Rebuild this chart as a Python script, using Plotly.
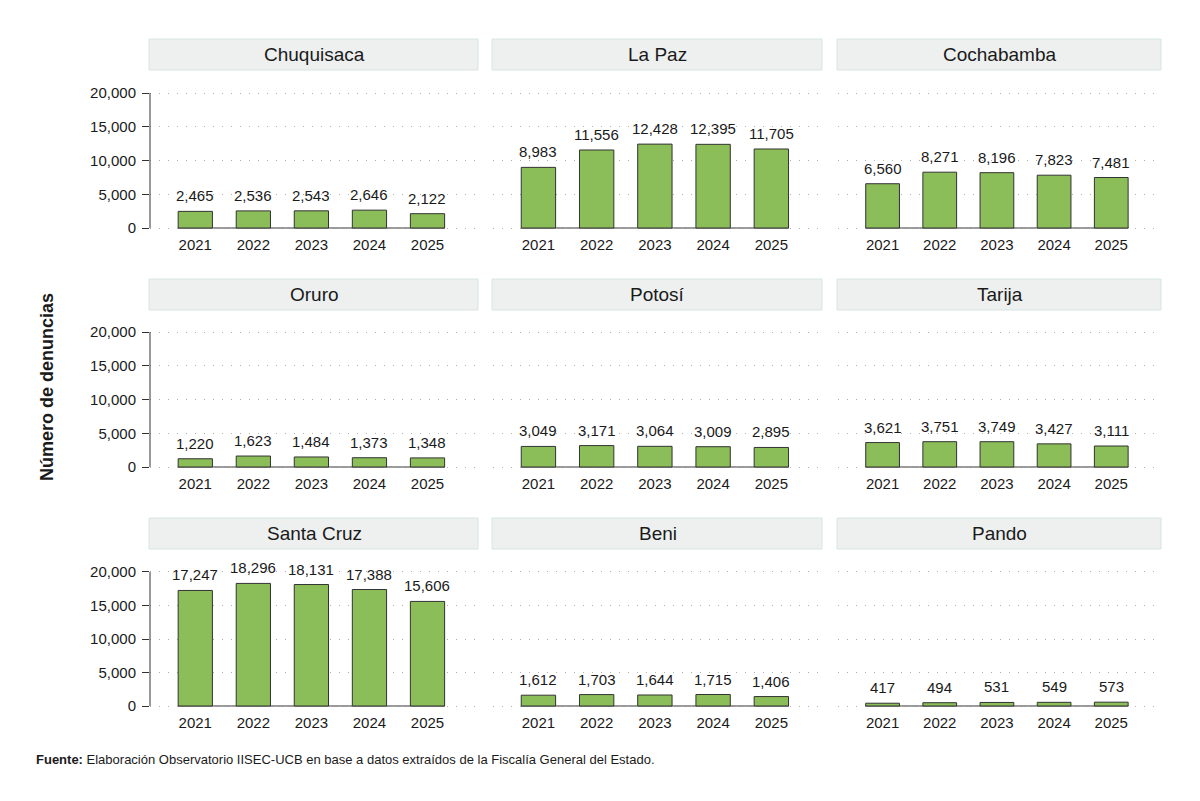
import plotly.graph_objects as go

years = ["2021", "2022", "2023", "2024", "2025"]
departments = ["Chuquisaca", "La Paz", "Cochabamba", "Oruro", "Potosí", "Tarija",
               "Santa Cruz", "Beni", "Pando"]
chuquisaca = [2465, 2536, 2543, 2646, 2122]
la_paz = [8983, 11556, 12428, 12395, 11705]
cochabamba = [6560, 8271, 8196, 7823, 7481]
oruro = [1220, 1623, 1484, 1373, 1348]
potosi = [3049, 3171, 3064, 3009, 2895]
tarija = [3621, 3751, 3749, 3427, 3111]
santa_cruz = [17247, 18296, 18131, 17388, 15606]
beni = [1612, 1703, 1644, 1715, 1406]
pando = [417, 494, 531, 549, 573]
series = [chuquisaca, la_paz, cochabamba, oruro, potosi, tarija, santa_cruz, beni, pando]
y_ticks = [0, 5000, 10000, 15000, 20000]

FONT = "Liberation Sans Narrow, Arial Narrow, Liberation Sans, Arial, sans-serif"
W, H = 1200, 801
col_px = [(150, 478), (493, 822), (838, 1161)]
row_px = [(93, 228), (332, 467), (572, 706)]
strip_px = [(39, 70), (279, 310), (518, 549)]
Y_LO, Y_HI = -450, 20450

fig = go.Figure()
layout = dict(
    template="none",
    width=W, height=H, margin=dict(l=0, r=0, t=0, b=0, pad=0, autoexpand=False),
    paper_bgcolor="white", plot_bgcolor="white",
    font=dict(family=FONT, color="#1a1a1a"),
    showlegend=False,
)
shapes = []
annotations = []
for i, (name, vals) in enumerate(zip(departments, series)):
    r, c = divmod(i, 3)
    idx = "" if i == 0 else str(i + 1)
    xa, ya = "x" + idx, "y" + idx
    fig.add_trace(go.Bar(
        x=years, y=vals, xaxis=xa, yaxis=ya,
        marker=dict(color="#8BBD58", line=dict(color="#333333", width=1)),
        cliponaxis=False, width=0.59, hoverinfo="x+y",
    ))
    for j, v in enumerate(vals):
        annotations.append(dict(
            text=f"{v:,}", xref=xa, yref=ya, x=j, y=v, xanchor="center",
            yanchor="bottom", yshift=5, showarrow=False,
            font=dict(size=15, family=FONT, color="#1a1a1a")))
    x0, x1 = col_px[c]
    y0, y1 = row_px[r]
    # extend the range slightly so the 0 and 20,000 gridlines are drawn,
    # and shift the domain so that 0 and 20,000 sit on the reference pixels
    ppu = (y1 - y0) / 20000.0
    d_top = y0 - (Y_HI - 20000) * ppu
    d_bot = y1 + (0 - Y_LO) * ppu
    layout["xaxis" + idx] = dict(
        type="category", categoryorder="array", categoryarray=years,
        domain=[x0 / W, x1 / W], anchor=ya, range=[-0.78, 4.87], automargin=False,
        showgrid=False, showline=False, ticks="", zeroline=False,
        tickfont=dict(size=15, family=FONT, color="#1a1a1a"), ticklabelstandoff=3,
    )
    layout["yaxis" + idx] = dict(
        domain=[1 - d_bot / H, 1 - d_top / H], anchor=xa, range=[Y_LO, Y_HI],
        automargin=False, tickvals=y_ticks, tickformat=",.0f",
        showgrid=True, gridcolor="#b0b0b0", griddash="1px,8px", gridwidth=1,
        zeroline=False, showline=False,
        ticks="outside" if c == 0 else "", ticklen=7, tickcolor="#333333",
        showticklabels=(c == 0), ticklabelstandoff=3,
        tickfont=dict(size=15, family=FONT, color="#1a1a1a"),
    )
    # baseline
    shapes.append(dict(type="line", xref=xa, yref=ya, x0=-0.3, x1=4.3, y0=0, y1=0,
                       line=dict(color="#9a9a9a", width=2), layer="below"))
    # left axis line (only first column), from 0 to 20,000
    if c == 0:
        shapes.append(dict(type="line", xref=xa + " domain", yref=ya, x0=0, x1=0,
                           y0=0, y1=20000, line=dict(color="#333333", width=1)))
    # facet strip
    s0, s1 = strip_px[r]
    shapes.append(dict(type="rect", xref="paper", yref="paper",
                       x0=(x0 - 1) / W, x1=x1 / W, y0=1 - s1 / H, y1=1 - s0 / H,
                       fillcolor="#EEF0F0", line=dict(color="#D6E4E4", width=1)))
    annotations.append(dict(text=name, xref="paper", yref="paper",
                            x=(x0 + x1) / 2 / W, y=1 - (s0 + s1) / 2 / H,
                            xanchor="center", yanchor="middle", showarrow=False,
                            font=dict(size=19, family=FONT, color="#1a1a1a")))

annotations.append(dict(text="<b>Número de denuncias</b>", xref="paper", yref="paper",
                        x=47 / W, y=1 - 387 / H, textangle=-90, showarrow=False,
                        xanchor="center", yanchor="middle",
                        font=dict(size=18, family=FONT, color="#1a1a1a")))
annotations.append(dict(
    text="<b>Fuente:</b> Elaboración Observatorio IISEC-UCB en base a datos extraídos de la Fiscalía General del Estado.",
    xref="paper", yref="paper", x=34 / W, y=1 - 759 / H, xanchor="left", yanchor="middle",
    showarrow=False, font=dict(size=13, family=FONT, color="#1a1a1a")))

layout["shapes"] = shapes
layout["annotations"] = annotations
fig.update_layout(**layout)
fig.write_html("out.html")
